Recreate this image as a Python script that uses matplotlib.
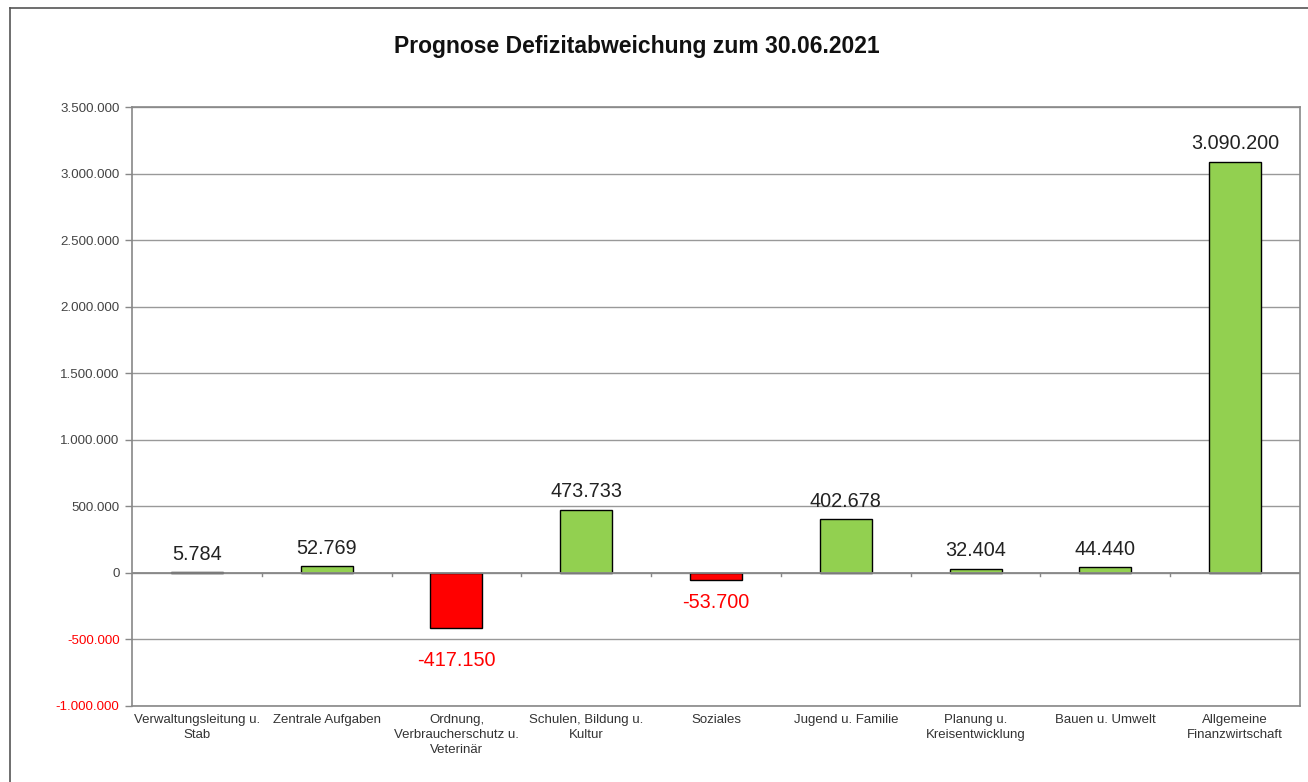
import matplotlib.pyplot as plt
from matplotlib.lines import Line2D

plt.rcParams['font.family'] = ['Liberation Sans', 'DejaVu Sans']

categories = ["Verwaltungsleitung u.\nStab", "Zentrale Aufgaben",
              "Ordnung,\nVerbraucherschutz u.\nVeterinär",
              "Schulen, Bildung u.\nKultur", "Soziales", "Jugend u. Familie",
              "Planung u.\nKreisentwicklung", "Bauen u. Umwelt",
              "Allgemeine\nFinanzwirtschaft"]
values = [5784, 52769, -417150, 473733, -53700, 402678, 32404, 44440, 3090200]
yticks = [-1000000, -500000, 0, 500000, 1000000, 1500000, 2000000,
          2500000, 3000000, 3500000]


def fmt(v):
    return "{:,}".format(v).replace(",", ".")


W, H = 1308, 782
fig = plt.figure(figsize=(W / 100, H / 100), dpi=100)
ax = fig.add_axes([132 / W, 1 - 706 / H, (1300 - 132) / W, (706 - 107) / H])

# outer frame of the chart (only left and top visible)
fig.add_artist(Line2D([10 / W, 10 / W], [0, 1 - 8 / H], transform=fig.transFigure,
                      color='#555555', lw=1.2))
fig.add_artist(Line2D([10 / W, 1], [1 - 8 / H, 1 - 8 / H], transform=fig.transFigure,
                      color='#555555', lw=1.2))

x = list(range(len(values)))
colors = ['#92D050' if v >= 0 else '#FF0000' for v in values]
ax.bar(x, values, width=0.4, color=colors, edgecolor='black', linewidth=1.0, zorder=3)

ax.set_xlim(-0.5, len(values) - 0.5)
ax.set_ylim(-1000000, 3500000)
ax.set_yticks(yticks)
ax.set_yticklabels([fmt(v) for v in yticks], fontsize=9.6, color='#444444')
for lab, v in zip(ax.get_yticklabels(), yticks):
    if v < 0:
        lab.set_color('#FF0000')
ax.tick_params(axis='y', length=5, color='#888888', width=1, pad=4)
ax.yaxis.grid(True, color='#999999', lw=1, zorder=0)

ax.set_xticks([])
for i, c in enumerate(categories):
    ax.annotate(c, (i, -1000000), xytext=(0, -6), textcoords='offset points',
                ha='center', va='top', fontsize=9.5, color='#333333',
                linespacing=1.3)

# zero line with small ticks at category boundaries
ax.axhline(0, color='#888888', lw=1.3, zorder=4)
for b in range(1, len(values)):
    ax.plot([b - 0.5, b - 0.5], [0, -25000], color='#888888', lw=1, zorder=4)

for s in ['top', 'right', 'bottom', 'left']:
    ax.spines[s].set_color('#888888')
    ax.spines[s].set_linewidth(1.2)

for i, v in enumerate(values):
    if v >= 0:
        ax.annotate(fmt(v), (i, v), xytext=(0, 6), textcoords='offset points',
                    ha='center', va='bottom', fontsize=14.3, color='#222222')
    else:
        off = -16 if v < -200000 else -9
        ax.annotate(fmt(v), (i, v), xytext=(0, off), textcoords='offset points',
                    ha='center', va='top', fontsize=14.3, color='#FF0000')

fig.text(637 / W, 1 - 47 / H, "Prognose Defizitabweichung zum 30.06.2021",
         ha='center', va='center', fontsize=16.5, fontweight='bold', color='#111111')

fig.savefig('out.png', dpi=100)
